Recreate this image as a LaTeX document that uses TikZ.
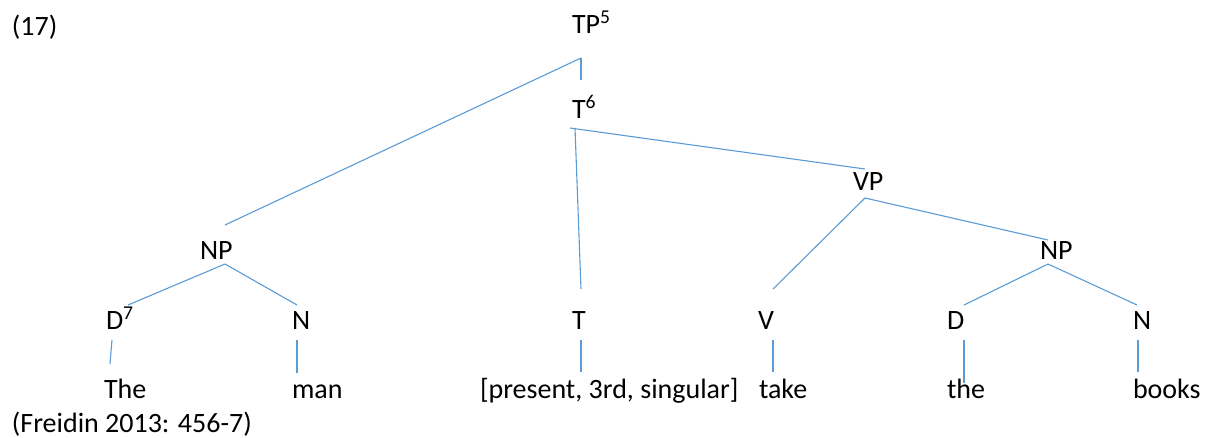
\documentclass[tikz,border=0pt]{standalone}
\usepackage{fontspec}
\setmainfont{Carlito}
\definecolor{treeblue}{HTML}{5B9BD5}
\tikzset{
  lbl/.style={anchor=base west, inner sep=0pt, outer sep=0pt, font=\fontsize{28}{31}\selectfont, text=black},
  br/.style={draw=treeblue, line width=1.1pt},
  brt/.style={draw=treeblue, line width=2pt}
}
\begin{document}
\begin{tikzpicture}[x=1pt,y=-1pt]
\useasboundingbox (0,0) rectangle (1212,437);
% labels
\node[lbl] (ex) at (12,35) {(17)};
\node[lbl] (TP) at (572,33) {TP\textsuperscript{5}};
\node[lbl] (Tbar) at (572,118) {T\textsuperscript{6}};
\node[lbl] (VP) at (853,190) {VP};
\node[lbl] (NP1) at (200,259) {NP};
\node[lbl] (NP2) at (1040,259) {NP};
\node[lbl] (D1) at (106,329) {D\textsuperscript{7}};
\node[lbl] (N1) at (292,329) {N};
\node[lbl] (T) at (572,329) {T};
\node[lbl] (V) at (758,329) {V};
\node[lbl] (D2) at (947,329) {D};
\node[lbl] (N2) at (1133,329) {N};
\node[lbl] (w1) at (104,398) {The};
\node[lbl] (w2) at (292,398) {man};
\node[lbl] (w3) at (480,398) {[present, 3rd, singular]};
\node[lbl] (w4) at (759,398) {take};
\node[lbl] (w5) at (947,398) {the};
\node[lbl] (w6) at (1133,398) {books};
\node[lbl] (src) at (12,432) {(Freidin 2013: 456-7)};
% connector ends
\coordinate (TPa) at (581,58);
\coordinate (TPb) at (581,80);
\coordinate (NP1t) at (225,225);
\coordinate (Ta) at (570,128);
\coordinate (Tv) at (575,128);
\coordinate (Tt) at (581,289);
\coordinate (VPt) at (865,169);
\coordinate (VPa) at (865,198);
\coordinate (Vt) at (773,289);
\coordinate (NP2t) at (1048,240);
\coordinate (NP2a) at (1048,264);
\coordinate (D2t) at (964,305);
\coordinate (N2t) at (1137,305);
\coordinate (NP1a) at (225,264);
\coordinate (D1t) at (128,305);
\coordinate (N1t) at (297,305);
\coordinate (D1b) at (112,340);
\coordinate (w1t) at (110,364);
\coordinate (N1b) at (297,340);
\coordinate (w2t) at (297,373);
\coordinate (Tb) at (581,340);
\coordinate (w3t) at (581,372);
\coordinate (Vb) at (773,340);
\coordinate (w4t) at (773,372);
\coordinate (D2b) at (964,340);
\coordinate (w5t) at (964,383);
\coordinate (N2b) at (1138,340);
\coordinate (w6t) at (1138,372);
% branches
\draw[brt] (TPa) -- (TPb);
\draw[br] (TPa) -- (NP1t);
\draw[br] (Ta) -- (VPt);
\draw[br] (Tv) -- (Tt);
\draw[br] (VPa) -- (Vt);
\draw[br] (VPa) -- (NP2t);
\draw[br] (NP2a) -- (D2t);
\draw[br] (NP2a) -- (N2t);
\draw[br] (NP1a) -- (D1t);
\draw[br] (NP1a) -- (N1t);
\draw[br] (D1b) -- (w1t);
\draw[br] (N1b) -- (w2t);
\draw[brt] (Tb) -- (w3t);
\draw[brt] (Vb) -- (w4t);
\draw[br] (D2b) -- (w5t);
\draw[brt] (N2b) -- (w6t);
\end{tikzpicture}
\end{document}
